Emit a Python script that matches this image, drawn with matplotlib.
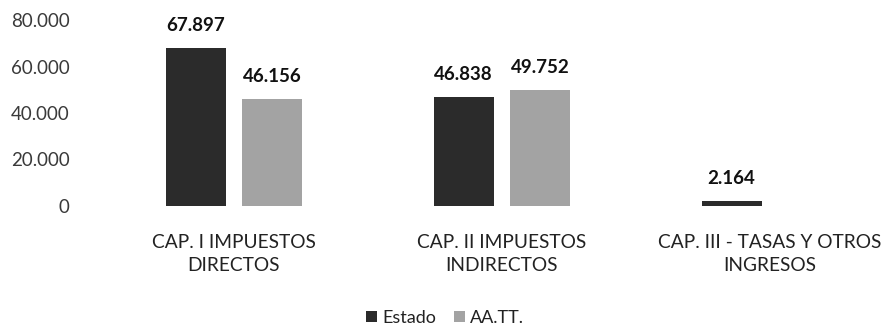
import matplotlib
matplotlib.use("Agg")
import matplotlib.pyplot as plt
import numpy as np

categories = ["CAP. I IMPUESTOS\nDIRECTOS", "CAP. II IMPUESTOS\nINDIRECTOS", "CAP. III - TASAS Y OTROS\nINGRESOS"]
estado = [67897, 46838, 2164]
aatt = [46156, 49752, np.nan]
yticks = [0, 20000, 40000, 60000, 80000]
ytick_labels = ["0", "20.000", "40.000", "60.000", "80.000"]

def fmt(v):
    return f"{v:,.0f}".replace(",", ".")

plt.rcParams['font.family'] = ['Lato', 'DejaVu Sans']

fig = plt.figure(figsize=(8.9, 3.3), dpi=100)
ax = fig.add_axes([100/890, 1 - 206/330, 790/890, 186/330])

x = np.arange(len(categories))
w = 0.224
off = 0.143
b1 = ax.bar(x - off, estado, w, color="#2b2b2b", label="Estado")
b2 = ax.bar(x + off, aatt, w, color="#a3a3a3", label="AA.TT.")

for xi, v in zip(x - off, estado):
    ax.text(xi, v + 6000, fmt(v), ha="center", va="bottom", fontsize=13.5, fontweight="bold", color="#111111")
for xi, v in zip(x + off, aatt):
    if not np.isnan(v):
        ax.text(xi, v + 6000, fmt(v), ha="center", va="bottom", fontsize=13.5, fontweight="bold", color="#111111")

ax.set_ylim(0, 80000)
ax.set_xlim(-0.5, 2.448)
ax.set_yticks(yticks)
ax.set_yticklabels(ytick_labels, fontsize=13.5, color="#3a3a3a")
ax.set_xticks(x)
ax.set_xticklabels(categories, fontsize=13.8, color="#222222", linespacing=1.45)
ax.tick_params(axis="both", length=0)
ax.tick_params(axis="x", pad=20)
ax.tick_params(axis="y", pad=22)
for s in ax.spines.values():
    s.set_visible(False)

fig.legend(handles=[b1, b2], labels=["Estado", "AA.TT."], loc="center", bbox_to_anchor=(0.5, 1 - 318/330),
           ncol=2, frameon=False, fontsize=13, handlelength=0.6, handleheight=0.6, handletextpad=0.3,
           columnspacing=1.0, labelcolor="#222222")

fig.savefig("out.png", dpi=100)
